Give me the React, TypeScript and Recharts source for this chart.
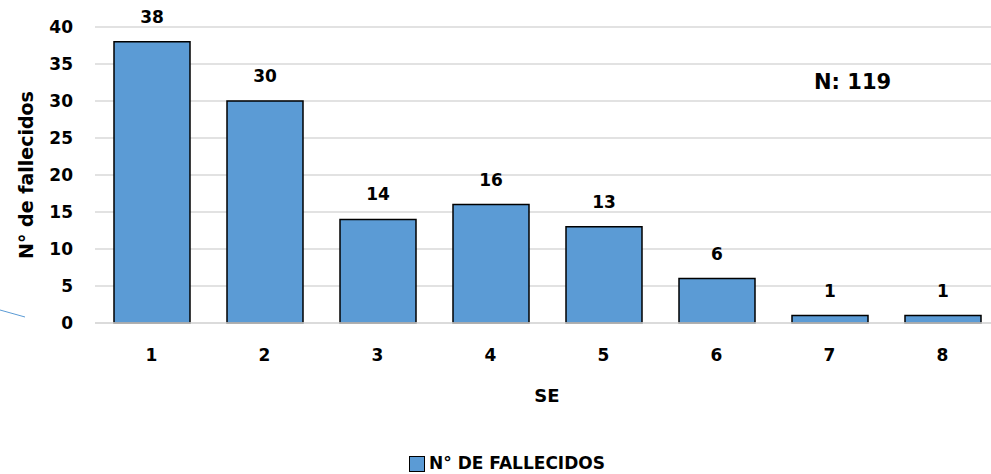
import React from 'react';
import { BarChart, Bar, XAxis, YAxis, CartesianGrid, LabelList, Legend } from 'recharts';

const categories = ['1', '2', '3', '4', '5', '6', '7', '8'];
const fallecidos = [38, 30, 14, 16, 13, 6, 1, 1];
const yTicks = [0, 5, 10, 15, 20, 25, 30, 35, 40];
const seriesName = 'N° DE FALLECIDOS';
const totalLabel = 'N: 119';

const data = categories.map((c, i) => ({ se: c, value: fallecidos[i] }));

const FONT = '"DejaVu Sans", sans-serif';

const LegendContent = () => (
  <div style={{ display: 'flex', justifyContent: 'center', alignItems: 'center', paddingTop: 22, paddingLeft: 15, fontFamily: FONT, fontWeight: 700, fontSize: 17, color: '#000', lineHeight: '15px', height: 15 }}>
    <span style={{ display: 'inline-block', width: 14, height: 14, background: '#5B9BD5', border: '1px solid #000', marginRight: 4 }} />
    <span>{seriesName}</span>
  </div>
);

export default function App() {
  return (
    <div style={{ position: 'absolute', left: 0, top: 0, width: 991, height: 474, overflow: 'hidden', background: '#fff' }}>
      <svg width={30} height={20} style={{ position: 'absolute', left: 0, top: 305 }}>
        <line x1={0} y1={5} x2={25} y2={12} stroke="#5B9BD5" strokeWidth={1} />
      </svg>
      <BarChart
        width={999}
        height={474}
        data={data}
        margin={{ top: 27, right: 0, left: 0, bottom: 0 }}
        barSize={76}
      >
        <CartesianGrid vertical={false} stroke="#D9D9D9" strokeWidth={1.5} />
        <XAxis
          dataKey="se"
          height={111}
          axisLine={{ stroke: '#D9D9D9', strokeWidth: 1.5 }}
          tickLine={false}
          tickSize={0}
          tickMargin={26}
          tick={{ fill: '#000', fontSize: 17, fontWeight: 700, fontFamily: FONT }}
          label={{ value: 'SE', position: 'insideBottom', offset: 32, fill: '#000', fontSize: 18, fontWeight: 700, fontFamily: FONT }}
        />
        <YAxis
          width={95}
          domain={[0, 40]}
          ticks={yTicks}
          axisLine={false}
          tickLine={false}
          tickSize={0}
          tickMargin={22}
          tick={{ fill: '#000', fontSize: 17, fontWeight: 700, fontFamily: FONT }}
          label={{ value: 'N° de fallecidos', angle: -90, position: 'center', dx: -21, fill: '#000', fontSize: 19, fontWeight: 700, fontFamily: FONT }}
        />
        <Legend verticalAlign="bottom" height={40} content={<LegendContent />} />
        <Bar dataKey="value" name={seriesName} fill="#5B9BD5" stroke="#000" strokeWidth={1.5} isAnimationActive={false}>
          <LabelList dataKey="value" position="top" offset={19} fill="#000" fontSize={17} fontWeight={700} fontFamily={FONT} />
        </Bar>
      </BarChart>
      <div style={{ position: 'absolute', left: 814, top: 68, fontFamily: FONT, fontWeight: 700, fontSize: 21, color: '#000', lineHeight: '28px' }}>{totalLabel}</div>
    </div>
  );
}
